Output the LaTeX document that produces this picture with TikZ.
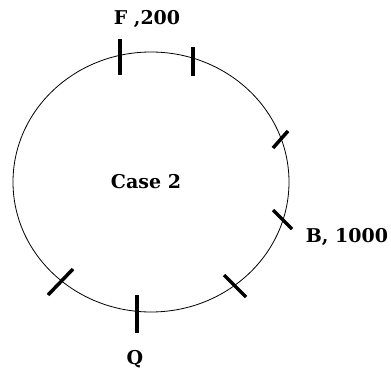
\documentclass[tikz,border=0pt]{standalone}
\usepackage{fontspec}
\setmainfont{DejaVu Serif}
\begin{document}
\begin{tikzpicture}[x=1pt,y=-1pt,
  tick/.style={line width=3.5pt},
  lbl/.style={font=\bfseries\fontsize{19}{22}\selectfont, inner sep=0pt}]
\useasboundingbox (0,0) rectangle (391,374);
\draw[line width=0.8pt] (151,182) ellipse [x radius=138, y radius=130];
% ticks
\coordinate (t1a) at (120,39); \coordinate (t1b) at (120,75);
\coordinate (t2a) at (193,47); \coordinate (t2b) at (193,76);
\coordinate (t3a) at (273,148); \coordinate (t3b) at (288,131);
\coordinate (t4a) at (273,210); \coordinate (t4b) at (292,229);
\coordinate (t5a) at (224,275); \coordinate (t5b) at (246,297);
\coordinate (t6a) at (137,295); \coordinate (t6b) at (137,333);
\coordinate (t7a) at (48,295); \coordinate (t7b) at (73,269);
\draw[tick] (t1a) -- (t1b);
\draw[tick] (t2a) -- (t2b);
\draw[tick] (t3a) -- (t3b);
\draw[tick] (t4a) -- (t4b);
\draw[tick] (t5a) -- (t5b);
\draw[tick] (t6a) -- (t6b);
\draw[tick] (t7a) -- (t7b);
\node[lbl] (f) at (147,19) {F ,200};
\node[lbl] (c) at (146,182) {Case 2};
\node[lbl] (b) at (347,237) {B, 1000};
\node[lbl] (q) at (135,359) {Q};
\end{tikzpicture}
\end{document}
